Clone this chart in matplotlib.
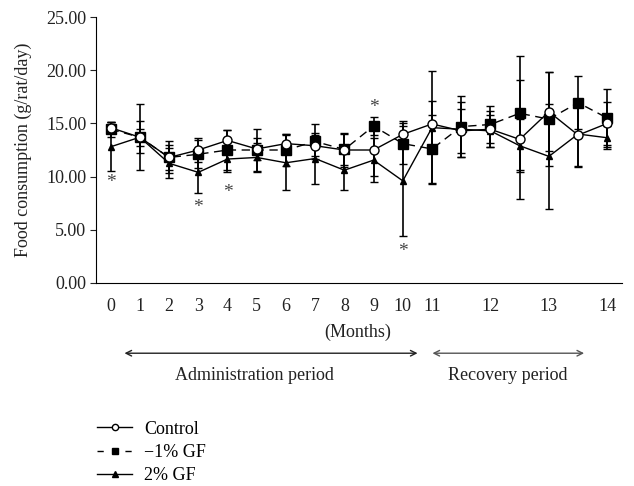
import numpy as np
import matplotlib
matplotlib.use("Agg")
import matplotlib.pyplot as plt
from matplotlib.lines import Line2D

plt.rcParams['font.family'] = ['Liberation Serif', 'DejaVu Serif']

# x tick labels (months); points after 11 are half-month steps in the recovery period
tick_pos = [0, 1, 2, 3, 4, 5, 6, 7, 8, 9, 10, 11, 13, 15, 17]
tick_labels = ['0', '1', '2', '3', '4', '5', '6', '7', '8', '9', '10', '11', '12', '13', '14']

control = [14.6, 13.7, 11.8, 12.5, 13.4, 12.6, 13.1, 12.9, 12.5, 12.5, 13.97, 14.95,
           14.3, 14.45, 13.5, 16.1, 13.9, 15.0]
control_err = [0.5, 1.5, 1.2, 1.1, 1.0, 1.0, 0.9, 1.0, 1.6, 2.4, 1.3, 2.2,
               2.1, 1.7, 5.6, 3.7, 2.9, 2.0]
gf1 = [14.45, 13.7, 11.8, 12.1, 12.5, 12.5, 12.5, 13.3, 12.55, 14.75, 13.1, 12.6,
       14.7, 14.9, 15.95, 15.4, 16.95, 15.5]
gf1_err = [0.7, 0.8, 1.5, 1.3, 1.9, 1.95, 1.5, 1.65, 1.5, 0.85, 1.9, 3.2,
           2.9, 1.7, 5.35, 4.45, 2.5, 2.75]
gf2 = [12.8, 13.7, 11.25, 10.4, 11.65, 11.8, 11.3, 11.7, 10.6, 11.55, 9.6, 14.6,
       14.45, 14.3, 12.9, 11.9, 14.0, 13.65]
gf2_err = [2.3, 3.1, 1.4, 1.9, 1.2, 1.4, 2.6, 2.4, 1.9, 2.1, 5.2, 5.3,
           2.6, 1.5, 2.5, 4.9, 3.1, 1.1]

# significance marks
star_x = [0, 3, 4, 9, 10]
star_y = [9.4, 7.1, 8.5, 16.5, 2.95]

x = np.arange(len(control))
fs = 13
txt = '#222222'

fig = plt.figure(figsize=(6.34, 4.86), dpi=100)
ax = fig.add_axes([0.1514, 0.4177, 0.8296, 0.5473])

ax.errorbar(x, gf2, yerr=gf2_err, color='black', lw=1, marker='^', ms=5,
            mfc='black', capsize=3, capthick=1, elinewidth=1.2, zorder=3)
ax.errorbar(x, gf1, yerr=gf1_err, color='black', lw=1, ls=(0, (6, 4)), marker='s', ms=7,
            mfc='black', capsize=3, capthick=1, elinewidth=1.2, zorder=4)
ax.errorbar(x, control, yerr=control_err, color='black', lw=1, marker='o', ms=6.5,
            mfc='white', mec='black', capsize=3, capthick=1, elinewidth=1.2, zorder=5)

for sx, sy in zip(star_x, star_y):
    ax.text(sx, sy, '*', ha='center', va='center', fontsize=14, color='#444444')

ax.set_xlim(-0.5, 17.5)
ax.set_ylim(0, 25)
ax.set_yticks([0, 5, 10, 15, 20, 25])
ax.set_yticklabels(['%.2f' % v for v in [0, 5, 10, 15, 20, 25]])
ax.set_xticks(tick_pos)
ax.set_xticklabels(tick_labels)
ax.tick_params(axis='x', length=0, pad=11, labelsize=fs, colors=txt)
ax.tick_params(axis='y', length=4, pad=3, labelsize=fs, colors=txt)
ax.spines['top'].set_visible(False)
ax.spines['right'].set_visible(False)
ax.set_ylabel('Food consumption (g/rat/day)', fontsize=fs, color=txt, labelpad=10)

# months label and period arrows below axis
ax.text(8.47, -4.6, '(Months)', ha='center', va='center', fontsize=fs, color=txt,
        clip_on=False)
ax.annotate('', xy=(0.38, -6.6), xytext=(10.6, -6.6), xycoords='data', annotation_clip=False,
            arrowprops=dict(arrowstyle='<->', color=txt, lw=1))
ax.annotate('', xy=(10.92, -6.6), xytext=(16.3, -6.6), xycoords='data', annotation_clip=False,
            arrowprops=dict(arrowstyle='<->', color='#555555', lw=1))
ax.text(4.93, -8.65, 'Administration period', ha='center', va='center', fontsize=fs,
        color=txt, clip_on=False)
ax.text(13.6, -8.65, 'Recovery period', ha='center', va='center', fontsize=fs,
        color=txt, clip_on=False)

handles = [
    Line2D([], [], color='black', lw=1, marker='o', ms=4.5, mfc='white', mec='black'),
    Line2D([], [], color='black', lw=1, ls=(0, (4.5, 15.6)), marker='s', ms=5, mfc='black'),
    Line2D([], [], color='black', lw=1, marker='^', ms=4, mfc='black'),
]
labels = ['Control', '\u22121% GF', '2% GF']
fig.legend(handles, labels, loc='upper left', bbox_to_anchor=(0.128, 0.168), frameon=False,
           fontsize=fs, handlelength=1.9, labelspacing=0.35, handletextpad=0.7)

fig.savefig('out.png', dpi=100)
